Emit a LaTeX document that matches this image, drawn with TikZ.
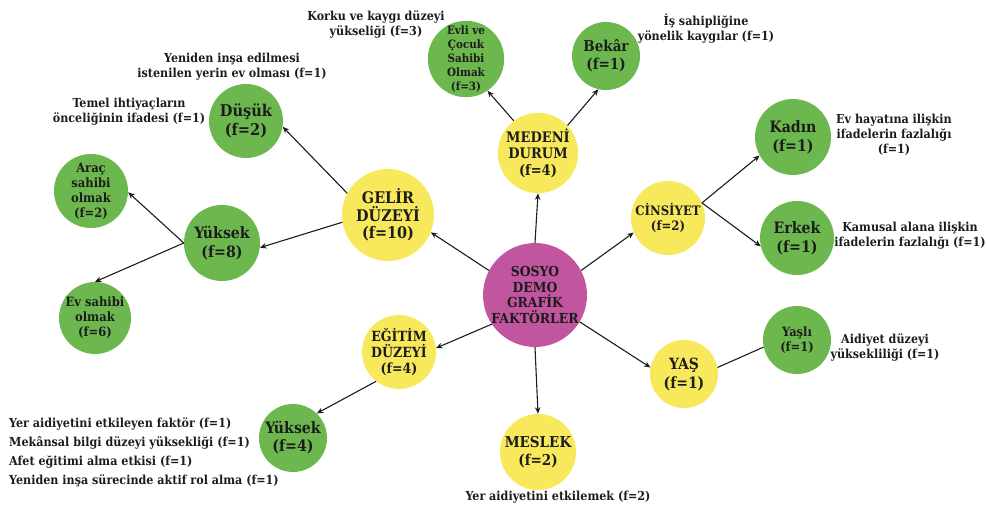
\documentclass[tikz,border=0pt]{standalone}
\usepackage{fontspec}
\setmainfont{DejaVu Serif Condensed}
\usetikzlibrary{arrows.meta}
\definecolor{gr}{HTML}{6CB84E}
\definecolor{ye}{HTML}{F8E85C}
\definecolor{mg}{HTML}{C2559F}
\definecolor{tx}{HTML}{1C1C1C}
\newcommand\fsz[2]{\fontsize{#1}{#2}\selectfont\bfseries}
\begin{document}
\begin{tikzpicture}[x=1pt,y=-1pt,
 circ/.style={circle,inner sep=0pt,align=center,text=tx},
 gnode/.style={circ,fill=gr},
 ynode/.style={circ,fill=ye},
 lbl/.style={align=center,text=tx,inner sep=0pt,font=\fsz{12.4}{15}},
 arr/.style={-{Stealth[length=6.5pt,width=5.5pt]},line width=1.1pt,draw=tx},
 ln/.style={line width=1.1pt,draw=tx}]
\useasboundingbox (0,0) rectangle (987,510);
% centre
\node[circ,fill=mg,minimum size=94pt,font=\fsz{13.8}{15.5}] (s) at (535,295) {SOSYO\\DEMO\\GRAFİK\\FAKTÖRLER};
% yellow
\node[ynode,minimum size=92pt,font=\fsz{16}{17.5}] (gel) at (388,215) {GELİR\\DÜZEYİ\\(f=10)};
\node[ynode,minimum size=68pt,font=\fsz{14.5}{16.5}] (med) at (538,153) {MEDENİ\\DURUM\\(f=4)};
\node[ynode,minimum size=74pt,font=\fsz{13}{14.5}] (cin) at (668,218) {CİNSİYET\\(f=2)};
\node[ynode,minimum size=74pt,font=\fsz{14}{16}] (egt) at (399,352) {EĞİTİM\\DÜZEYİ\\(f=4)};
\node[ynode,minimum size=68pt,font=\fsz{15.5}{19}] (yas) at (684,374) {YAŞ\\(f=1)};
\node[ynode,minimum size=76pt,font=\fsz{15}{17.5}] (mes) at (538,452) {MESLEK\\(f=2)};
% green
\node[gnode,minimum size=74pt,font=\fsz{16.2}{19}] (dus) at (246,121) {Düşük\\(f=2)};
\node[gnode,minimum size=76pt,font=\fsz{15.7}{19}] (y8) at (222,243) {Yüksek\\(f=8)};
\node[gnode,minimum size=74pt,font=\fsz{12.8}{15}] (arac) at (91,191) {Araç\\sahibi\\olmak\\(f=2)};
\node[gnode,minimum size=72pt,font=\fsz{12.8}{15}] (ev) at (95,318) {Ev sahibi\\olmak\\(f=6)};
\node[gnode,minimum size=76pt,font=\fsz{11.5}{14}] (evli) at (466,59) {Evli ve\\Çocuk\\Sahibi\\Olmak\\(f=3)};
\node[gnode,minimum size=68pt,font=\fsz{15}{18}] (bek) at (606,56) {Bekâr\\(f=1)};
\node[gnode,minimum size=76pt,font=\fsz{15.7}{19}] (kad) at (793,137) {Kadın\\(f=1)};
\node[gnode,minimum size=74pt,font=\fsz{15.7}{19}] (erk) at (797,238) {Erkek\\(f=1)};
\node[gnode,minimum size=68pt,font=\fsz{12.8}{15.5}] (yasli) at (797,340) {Yaşlı\\(f=1)};
\node[gnode,minimum size=68pt,font=\fsz{15.7}{18}] (y4) at (293,438) {Yüksek\\(f=4)};
% labels
\node[lbl] (t1) at (232,67) {Yeniden inşa edilmesi\\istenilen yerin ev olması (f=1)};
\node[lbl] (t2) at (129,112) {Temel ihtiyaçların\\önceliğinin ifadesi (f=1)};
\node[lbl] (t3) at (376,24) {Korku ve kaygı düzeyi\\yükseliği (f=3)};
\node[lbl] (t4) at (706,29) {İş sahipliğine\\yönelik kaygılar (f=1)};
\node[lbl] (t5) at (894,135) {Ev hayatına ilişkin\\ifadelerin fazlalığı\\(f=1)};
\node[lbl] (t6) at (910,236) {Kamusal alana ilişkin\\ifadelerin fazlalığı (f=1)};
\node[lbl] (t7) at (885,347) {Aidiyet düzeyi\\yüksekliliği (f=1)};
\node[lbl] (t8) at (558,497) {Yer aidiyetini etkilemek (f=2)};
\node[lbl,align=left,anchor=west,font=\fsz{12.4}{19}] (t9) at (9,452) {Yer aidiyetini etkileyen faktör (f=1)\\Mekânsal bilgi düzeyi yüksekliği (f=1)\\Afet eğitimi alma etkisi (f=1)\\Yeniden inşa sürecinde aktif rol alma (f=1)};
% connectors
\draw[arr] (s.152) -- (gel.-22);
\draw[arr] (s.90) -- (med.-90);
\draw[arr] (s.28) -- (cin.-157);
\draw[arr] (s.214) -- (egt.6);
\draw[arr] (s.-31) -- (yas.169);
\draw[arr] (s.-90) -- (mes.90);
\draw[arr] (gel.152) -- (dus.-9);
\draw[arr] (gel.189) -- (y8.-7);
\draw[arr] (y8.180) -- (arac.-2);
\draw[arr] (y8.180) -- (ev.90);
\draw[arr] (med.127) -- (evli.-56);
\draw[arr] (med.43) -- (bek.-103);
\draw[arr] (cin.24) -- (kad.209);
\draw[arr] (cin.24) -- (erk.193);
\draw[ln] (yas.11) -- (yasli.192);
\draw[arr] (egt.232) -- (y4.46);
\end{tikzpicture}
\end{document}
